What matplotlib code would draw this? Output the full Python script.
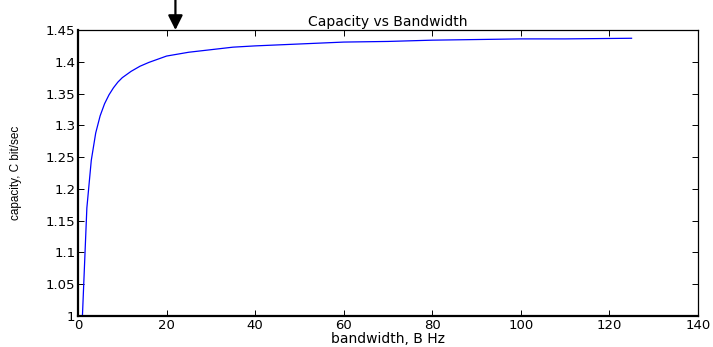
import matplotlib
matplotlib.use("Agg")
import matplotlib.pyplot as plt

bandwidth = [1, 2, 3, 4, 5, 6, 7, 8, 9, 10, 12, 14, 16, 18, 20, 25, 30, 35, 40,
             50, 60, 70, 80, 90, 100, 110, 125]
capacity = [1.000, 1.170, 1.245, 1.288, 1.315, 1.334, 1.348, 1.359, 1.368, 1.375,
            1.385, 1.393, 1.399, 1.404, 1.409, 1.415, 1.419, 1.423, 1.425,
            1.428, 1.431, 1.432, 1.434, 1.435, 1.436, 1.436, 1.437]
xticks = [0, 20, 40, 60, 80, 100, 120, 140]
yticks = [1, 1.05, 1.1, 1.15, 1.2, 1.25, 1.3, 1.35, 1.4, 1.45]
ytick_labels = ["1", "1.05", "1.1", "1.15", "1.2", "1.25", "1.3", "1.35", "1.4", "1.45"]

plt.rcParams['font.family'] = ['DejaVu Sans']

fig = plt.figure(figsize=(7.13, 3.47), dpi=100)
ax = fig.add_axes([78/713, 31/347, 620/713, 286/347])
ax.plot(bandwidth, capacity, color='#0000ff', lw=0.9)
ax.set_xlim(0, 140)
ax.set_ylim(1, 1.45)
ax.set_xticks(xticks)
ax.set_yticks(yticks)
ax.set_yticklabels(ytick_labels)
ax.tick_params(direction='in', top=True, right=True, length=4, width=0.7,
               labelsize=9.5, pad=2, colors='black')
for s in ['left', 'bottom']:
    ax.spines[s].set_linewidth(1.6)
for s in ['top', 'right']:
    ax.spines[s].set_linewidth(0.9)
ax.set_title("Capacity vs Bandwidth", fontsize=10, pad=3)
ax.set_xlabel("bandwidth, B Hz", fontsize=10, labelpad=0)
ax.set_ylabel("capacity, C bit/sec", fontsize=8.5, labelpad=17,
              family='Liberation Sans')

ax.annotate('', xy=(22, 1.45), xytext=(22, 1.505), annotation_clip=False,
            arrowprops=dict(arrowstyle='-|>', color='black', lw=1.6,
                            mutation_scale=22, shrinkA=0, shrinkB=0))

fig.savefig("out.png", dpi=100)
